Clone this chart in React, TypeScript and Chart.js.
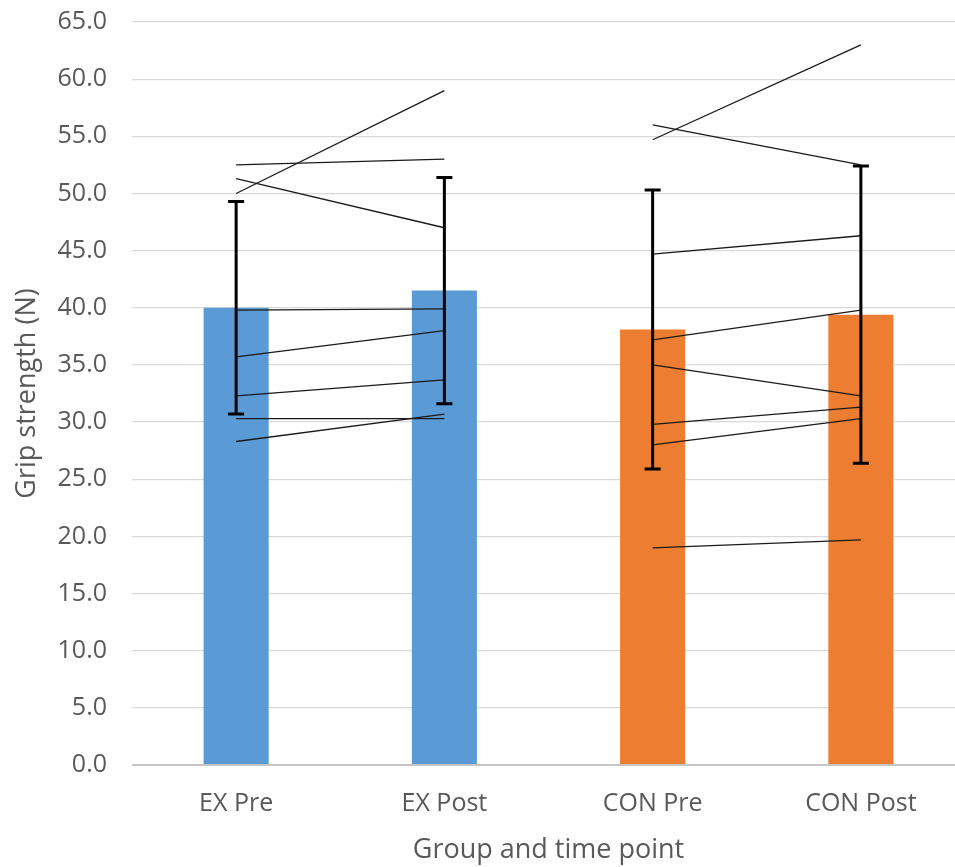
import React, { useEffect, useRef } from "react";
import { Chart, registerables } from "chart.js";

Chart.register(...registerables);

const categories = ["EX Pre", "EX Post", "CON Pre", "CON Post"];
const means = [40.0, 41.5, 38.1, 39.4];
const sds = [9.3, 9.9, 12.2, 13.0];
const barColors = ["#5B9BD5", "#5B9BD5", "#ED7D31", "#ED7D31"];

const exPre = [50.0, 52.5, 51.3, 39.8, 35.7, 32.3, 30.3, 28.3];
const exPost = [59.0, 53.0, 47.0, 39.9, 38.0, 33.7, 30.3, 30.7];
const conPre = [54.7, 56.0, 44.7, 37.2, 35.0, 29.8, 28.0, 19.0];
const conPost = [63.0, 52.5, 46.3, 39.8, 32.3, 31.3, 30.3, 19.7];

const yTicksMin = 0;
const yTicksMax = 65;
const yTickStep = 5;

const FONT = "'Open Sans', 'Liberation Sans', sans-serif";
const TEXT = "#595959";

const errorBarPlugin = {
  id: "errorBars",
  afterDatasetsDraw(chart: any) {
    const x = chart.scales.x;
    const y = chart.scales.y;
    const ctx = chart.ctx;
    ctx.save();
    ctx.strokeStyle = "#000000";
    ctx.lineWidth = 3;
    ctx.lineCap = "butt";
    for (let i = 0; i < means.length; i++) {
      const px = x.getPixelForValue(i);
      const top = y.getPixelForValue(means[i] + sds[i]);
      const bot = y.getPixelForValue(means[i] - sds[i]);
      ctx.beginPath();
      ctx.moveTo(px, top);
      ctx.lineTo(px, bot);
      ctx.moveTo(px - 8, top);
      ctx.lineTo(px + 8, top);
      ctx.moveTo(px - 8, bot);
      ctx.lineTo(px + 8, bot);
      ctx.stroke();
    }
    ctx.restore();
  },
};

export default function App() {
  const ref = useRef<HTMLCanvasElement | null>(null);

  useEffect(() => {
    if (!ref.current) return;
    const lineDatasets: any[] = [];
    exPre.forEach((v, i) => {
      lineDatasets.push({
        type: "line",
        data: [v, exPost[i], null, null],
        borderColor: "#1a1a1a",
        borderWidth: 1.3,
        pointRadius: 0,
        fill: false,
        order: 1,
      });
    });
    conPre.forEach((v, i) => {
      lineDatasets.push({
        type: "line",
        data: [null, null, v, conPost[i]],
        borderColor: "#1a1a1a",
        borderWidth: 1.3,
        pointRadius: 0,
        fill: false,
        order: 1,
      });
    });

    const chart = new Chart(ref.current, {
      type: "bar",
      data: {
        labels: categories,
        datasets: [
          {
            type: "bar",
            data: means,
            backgroundColor: barColors,
            borderWidth: 0,
            categoryPercentage: 1,
            barPercentage: 0.3125,
            order: 2,
          } as any,
          ...lineDatasets,
        ],
      },
      options: {
        animation: false,
        responsive: false,
        layout: { padding: { left: 0, right: 0, top: 22, bottom: 0 } },
        plugins: {
          legend: { display: false },
          tooltip: { enabled: false },
        },
        scales: {
          x: {
            afterFit: (s: any) => {
              s.height = 102;
            },
            grid: { display: false, drawTicks: false },
            border: { display: false },
            ticks: {
              color: TEXT,
              font: { family: FONT, size: 25 },
              padding: 24,
              maxRotation: 0,
            },
            title: {
              display: true,
              text: "Group and time point",
              color: TEXT,
              font: { family: FONT, size: 27 },
              padding: { top: 0, bottom: 0 },
            },
          },
          y: {
            min: yTicksMin,
            max: yTicksMax,
            afterFit: (s: any) => {
              s.width = 132;
              s.paddingTop = 0;
              s.paddingBottom = 0;
            },
            grid: {
              drawTicks: false,
              color: (c: any) => (c.tick && c.tick.value === 0 ? "#c6c6c6" : "#d9d9d9"),
              lineWidth: (c: any) => (c.tick && c.tick.value === 0 ? 2 : 1.3),
            },
            border: { display: false },
            ticks: {
              stepSize: yTickStep,
              color: TEXT,
              font: { family: FONT, size: 25 },
              padding: 25,
              callback: (v: any) => Number(v).toFixed(1),
            },
            title: {
              display: true,
              text: "Grip strength (N)",
              color: TEXT,
              font: { family: FONT, size: 27 },
              padding: { top: 11, bottom: 0 },
            },
          },
        },
      } as any,
      plugins: [errorBarPlugin],
    });
    return () => chart.destroy();
  }, []);

  return (
    <div
      style={{
        position: "fixed",
        left: 0,
        top: 0,
        width: 955,
        height: 867,
        overflow: "hidden",
        background: "#ffffff",
      }}
    >
      <canvas ref={ref} width={965} height={867} style={{ display: "block" }} />
    </div>
  );
}
